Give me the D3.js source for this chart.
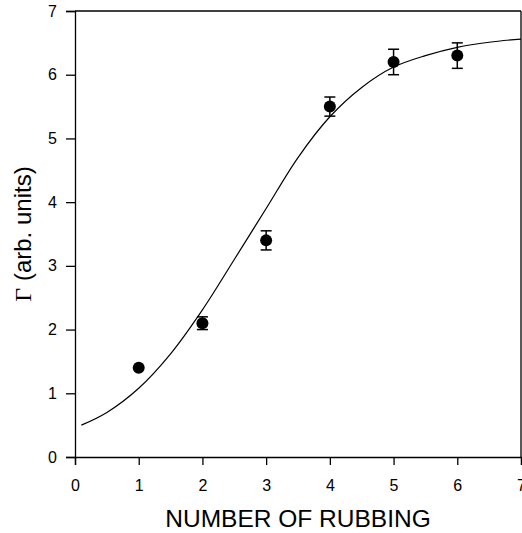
<!DOCTYPE html>
<html><head><meta charset="utf-8">
<script src="https://cdn.jsdelivr.net/npm/d3@7"></script>
<style>html,body{margin:0;padding:0;background:#fff;}svg{display:block;}</style>
</head><body>
<script>
const pointX = [1, 2, 3, 4, 5, 6];
const pointY = [1.4, 2.1, 3.4, 5.5, 6.2, 6.3];
const pointErr = [0, 0.1, 0.15, 0.15, 0.2, 0.2];
const fitX = [0.1, 0.5, 1, 1.5, 2, 2.5, 3, 3.5, 4, 4.5, 5, 5.5, 6, 6.5, 7];
const fitY = [0.50, 0.70, 1.08, 1.62, 2.31, 3.10, 3.90, 4.70, 5.34, 5.80, 6.12, 6.30, 6.43, 6.51, 6.56];
const xTicks = [0, 1, 2, 3, 4, 5, 6, 7];
const yTicks = [0, 1, 2, 3, 4, 5, 6, 7];
const xTitle = "NUMBER OF RUBBING";

const W = 522, H = 533;
const svg = d3.select("body").append("svg").attr("width", W).attr("height", H);
const x = d3.scaleLinear().domain([0, 7]).range([75, 521]);
const y = d3.scaleLinear().domain([0, 7]).range([457, 11]);
const font = "'Liberation Sans', Arial, sans-serif";

// frame top/right
svg.append("line").attr("x1", x(0)).attr("x2", x(7)).attr("y1", y(7)).attr("y2", y(7)).attr("stroke", "#000").attr("stroke-width", 1.3);
svg.append("line").attr("x1", x(7)).attr("x2", x(7)).attr("y1", y(0)).attr("y2", y(7)).attr("stroke", "#000").attr("stroke-width", 1.3);

const xAxis = svg.append("g").attr("transform", `translate(0,${y(0)})`)
  .call(d3.axisBottom(x).tickValues(xTicks).tickFormat(d3.format("d")).tickSize(8).tickPadding(15));
const yAxis = svg.append("g").attr("transform", `translate(${x(0)},0)`)
  .call(d3.axisLeft(y).tickValues(yTicks).tickFormat(d3.format("d")).tickSize(9).tickPadding(9));
[xAxis, yAxis].forEach(g => {
  g.selectAll("path.domain").attr("stroke", "#000").attr("stroke-width", 1.3);
  g.selectAll(".tick line").attr("stroke", "#000").attr("stroke-width", 1.3);
  g.selectAll("text").attr("font-family", font).attr("font-size", 16).attr("fill", "#000");
});

// fit curve
const line = d3.line().x((d, i) => x(fitX[i])).y((d, i) => y(fitY[i])).curve(d3.curveCatmullRom);
svg.append("path").attr("d", line(fitX)).attr("fill", "none").attr("stroke", "#000").attr("stroke-width", 1.2);

// error bars
const eb = svg.append("g").attr("stroke", "#000").attr("stroke-width", 1.5);
pointX.forEach((px, i) => {
  if (pointErr[i] <= 0) return;
  const cx = x(px), y1 = y(pointY[i] - pointErr[i]), y2 = y(pointY[i] + pointErr[i]);
  eb.append("line").attr("x1", cx).attr("x2", cx).attr("y1", y1).attr("y2", y2);
  eb.append("line").attr("x1", cx - 5.5).attr("x2", cx + 5.5).attr("y1", y1).attr("y2", y1);
  eb.append("line").attr("x1", cx - 5.5).attr("x2", cx + 5.5).attr("y1", y2).attr("y2", y2);
});

// points
svg.append("g").selectAll("circle").data(pointX).join("circle")
  .attr("cx", d => x(d)).attr("cy", (d, i) => y(pointY[i])).attr("r", 6).attr("fill", "#000");

// titles
svg.append("text").attr("x", (x(0) + x(7)) / 2).attr("y", 527).attr("text-anchor", "middle")
  .attr("font-family", font).attr("font-size", 24.5).attr("fill", "#000").text(xTitle);

const yt = svg.append("text").attr("transform", `translate(31,${(y(0) + y(7)) / 2}) rotate(-90)`)
  .attr("text-anchor", "middle").attr("font-family", font).attr("font-size", 24).attr("fill", "#000");
yt.append("tspan").attr("font-family", "'Liberation Serif', 'Times New Roman', serif").text("Γ");
yt.append("tspan").text(" (arb. units)");
</script>
</body></html>
